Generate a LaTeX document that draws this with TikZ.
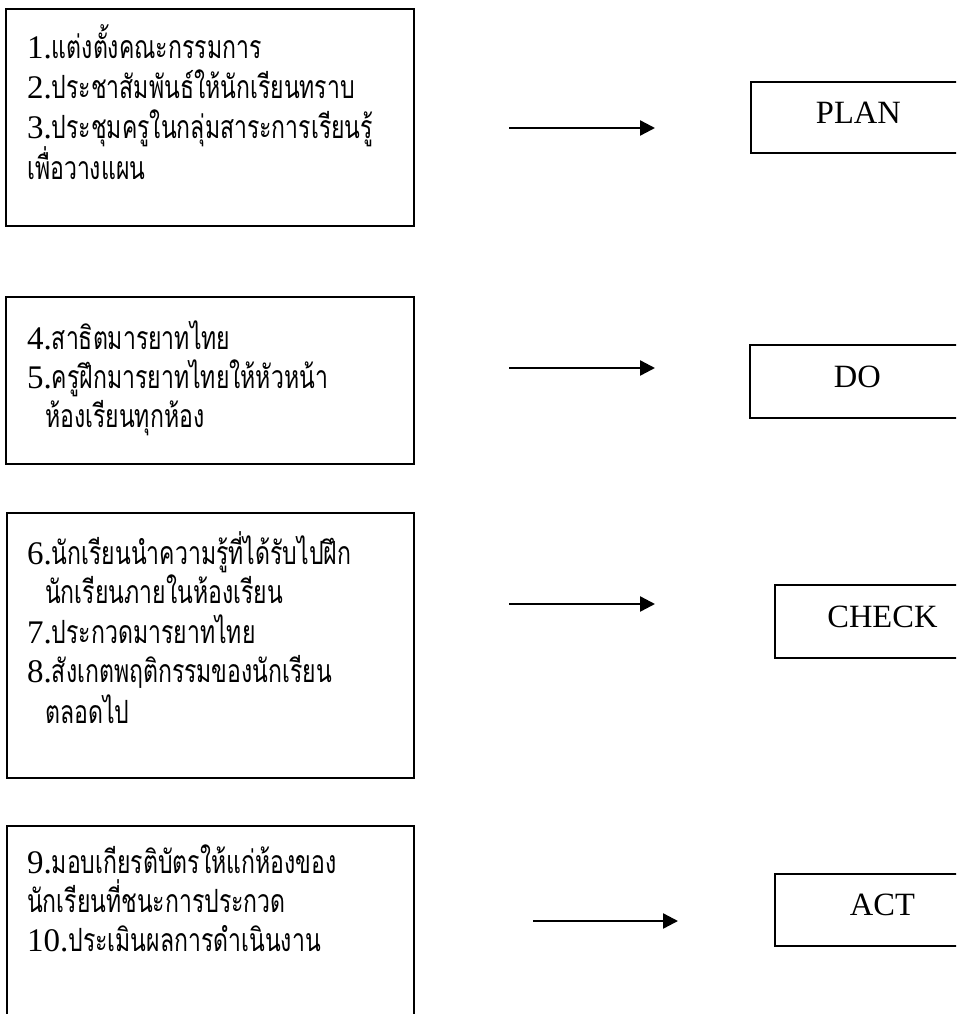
\documentclass[tikz,border=0pt]{standalone}
\usepackage{fontspec}
\setmainfont{Liberation Serif}
\newfontfamily\thaifont[Script=Thai,FakeStretch=0.72]{Loma}
\usetikzlibrary{arrows.meta}
\tikzset{
  leftbox/.style={draw, line width=1.8pt, rectangle, anchor=north west, inner sep=0pt, minimum width=#1},
  rbox/.style={draw, line width=1.8pt, rectangle, anchor=north west, inner sep=0pt, minimum width=215pt, minimum height=72pt, font=\fontsize{32.5}{32.5}\selectfont, text depth=10pt},
  ln/.style={anchor=base west, inner sep=0pt, font=\fontsize{33}{33}\selectfont},
  arr/.style={line width=2.4pt, -{Triangle[length=15pt,width=15pt]}}
}
\newcommand{\thx}[1]{{\thaifont\fontsize{32}{32}\selectfont #1}}
\begin{document}
\begin{tikzpicture}[x=1pt,y=-1pt]
\clip (0,0) rectangle (956,1014);
\fill[white] (0,0) rectangle (956,1014);
% left boxes
\node[leftbox=408pt, minimum height=217pt] (b1) at (5,8) {};
\node[leftbox=408pt, minimum height=167pt] (b2) at (5,296) {};
\node[leftbox=407pt, minimum height=265pt] (b3) at (6,512) {};
\node[leftbox=407pt, minimum height=240pt] (b4) at (6,825) {};
% box 1 text
\node[ln] (t1) at (27,59) {1.\thx{แต่งตั้งคณะกรรมการ}};
\node[ln] (t2) at (27,99) {2.\thx{ประชาสัมพันธ์ให้นักเรียนทราบ}};
\node[ln] (t3) at (27,139) {3.\thx{ประชุมครูในกลุ่มสาระการเรียนรู้}};
\node[ln] (t4) at (27,179) {\thx{เพื่อวางแผน}};
% box 2 text
\node[ln] (t5) at (27,349) {4.\thx{สาธิตมารยาทไทย}};
\node[ln] (t6) at (27,388) {5.\thx{ครูฝึกมารยาทไทยให้หัวหน้า}};
\node[ln] (t7) at (45,427) {\thx{ห้องเรียนทุกห้อง}};
% box 3 text
\node[ln] (t8) at (27,564) {6.\thx{นักเรียนนำความรู้ที่ได้รับไปฝึก}};
\node[ln] (t9) at (45,603) {\thx{นักเรียนภายในห้องเรียน}};
\node[ln] (t10) at (27,643) {7.\thx{ประกวดมารยาทไทย}};
\node[ln] (t11) at (27,682) {8.\thx{สังเกตพฤติกรรมของนักเรียน}};
\node[ln] (t12) at (45,723) {\thx{ตลอดไป}};
% box 4 text
\node[ln] (t13) at (27,873) {9.\thx{มอบเกียรติบัตรให้แก่ห้องของ}};
\node[ln] (t14) at (27,912) {\thx{นักเรียนที่ชนะการประกวด}};
\node[ln] (t15) at (27,951) {10.\thx{ประเมินผลการดำเนินงาน}};
% right boxes
\node[rbox, minimum height=71pt] (plan) at (750,81) {PLAN};
\node[rbox, minimum height=73pt] (do) at (749,344) {DO};
\node[rbox, minimum height=73pt] (check) at (774,584) {CHECK};
\node[rbox, minimum height=72pt] (act) at (774,873) {ACT};
% arrows
\coordinate (a1s) at (509,128); \coordinate (a1e) at (655,128);
\coordinate (a2s) at (509,368); \coordinate (a2e) at (655,368);
\coordinate (a3s) at (509,604); \coordinate (a3e) at (655,604);
\coordinate (a4s) at (533,921); \coordinate (a4e) at (678,921);
\draw[arr] (a1s) -- (a1e);
\draw[arr] (a2s) -- (a2e);
\draw[arr] (a3s) -- (a3e);
\draw[arr] (a4s) -- (a4e);
\end{tikzpicture}
\end{document}
